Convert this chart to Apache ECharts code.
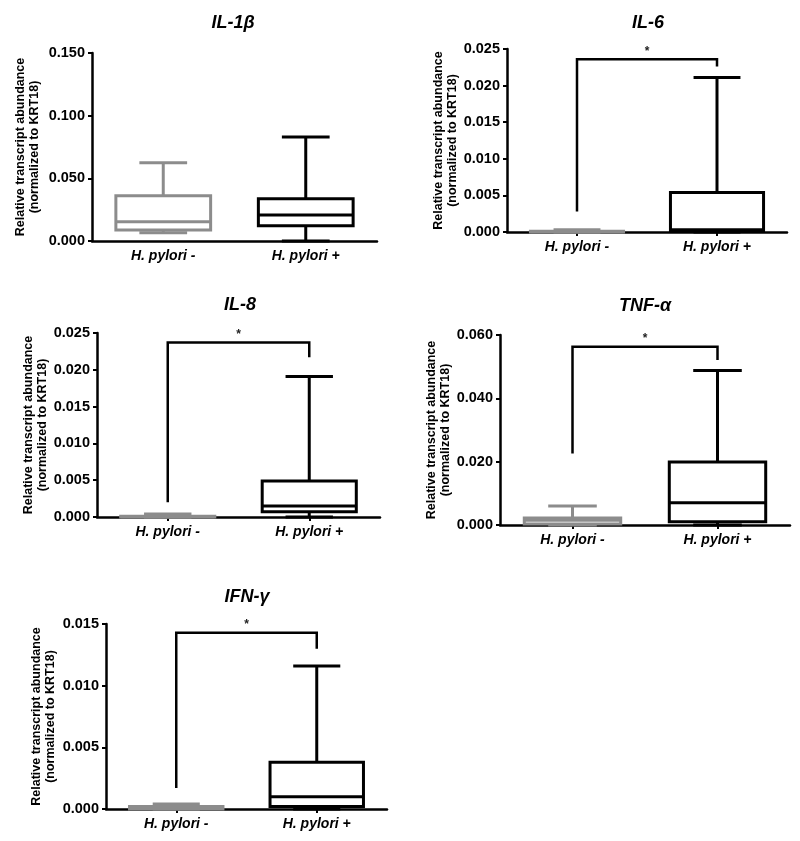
<!DOCTYPE html>
<html><head><meta charset="utf-8">
<script src="https://cdn.jsdelivr.net/npm/echarts@6/dist/echarts.min.js"></script>
<style>html,body{margin:0;padding:0;background:#fff}#c{width:800px;height:841px}</style>
</head><body><div id="c"></div>
<script>
// ---- data ----
const categories = ['H. pylori -', 'H. pylori +'];
const panelTitles = ['IL-1β', 'IL-6', 'IL-8', 'TNF-α', 'IFN-γ'];
const yAxisName = 'Relative transcript abundance\n(normalized to KRT18)';
const yMaxValues = [0.150, 0.025, 0.025, 0.060, 0.015];
const yStepValues = [0.050, 0.005, 0.005, 0.020, 0.005];
// boxes: [min, Q1, median, Q3, max] for H. pylori - and H. pylori +
const il1bNeg = [0.0066, 0.0088, 0.0154, 0.0361, 0.0625];
const il1bPos = [0.0000, 0.0122, 0.0207, 0.0338, 0.0830];
const il6Neg = [0.0000, 0.0000, 0.00005, 0.0001, 0.0003];
const il6Pos = [0.0000, 0.0001, 0.0003, 0.0054, 0.0211];
const il8Neg = [0.0000, 0.0000, 0.00005, 0.0001, 0.0004];
const il8Pos = [0.0000, 0.0007, 0.0015, 0.0049, 0.0191];
const tnfNeg = [0.0000, 0.0003, 0.0015, 0.0022, 0.0060];
const tnfPos = [0.0000, 0.0010, 0.0070, 0.0199, 0.0488];
const ifnNeg = [0.0000, 0.0000, 0.0001, 0.0002, 0.0004];
const ifnPos = [0.0000, 0.0002, 0.0010, 0.0038, 0.0116];
// significance brackets: [left foot, top, right foot]
const il6Bracket = [0.0028, 0.0236, 0.0226];
const il8Bracket = [0.0020, 0.0237, 0.0217];
const tnfBracket = [0.0226, 0.0563, 0.0521];
const ifnBracket = [0.0017, 0.0143, 0.0130];
const sigLabel = '*';

const panelBoxes = [[il1bNeg, il1bPos], [il6Neg, il6Pos], [il8Neg, il8Pos], [tnfNeg, tnfPos], [ifnNeg, ifnPos]];
const panelBrackets = [null, il6Bracket, il8Bracket, tnfBracket, ifnBracket];

// ---- layout / style ----
const FONT = '"Liberation Sans", Arial, Helvetica, sans-serif';
const GRAY = '#8c8c8c', BLACK = '#000000';
const grids = [
  {left: 92, top: 53, width: 285, height: 188},
  {left: 507, top: 49, width: 280, height: 183},
  {left: 97, top: 333, width: 283, height: 184},
  {left: 500, top: 335, width: 290, height: 190},
  {left: 106, top: 624, width: 281, height: 185}
];
const titlePos = [[233, 14], [648, 14], [240, 296], [645, 297], [247, 588]];
const nameGaps = [50, 46, 46, 46, 48];
const showCatTicks = [false, true, true, true, true];

function renderBox(params, api) {
  const ci = api.value(0);
  const c = ci === 0 ? GRAY : BLACK;
  const x = api.coord([ci, 0])[0];
  const band = api.size([1, 0])[0];
  const bw = band * 0.665, cw = band * 0.335;
  const y = k => api.coord([ci, api.value(k)])[1];
  const yMin = y(1), yQ1 = y(2), yMed = y(3), yQ3 = y(4), yMx = y(5);
  const ls = {stroke: c, lineWidth: 3, fill: null};
  return {type: 'group', children: [
    {type: 'line', shape: {x1: x, y1: yQ3, x2: x, y2: yMx}, style: ls},
    {type: 'line', shape: {x1: x - cw / 2, y1: yMx, x2: x + cw / 2, y2: yMx}, style: ls},
    {type: 'line', shape: {x1: x, y1: yMin, x2: x, y2: yQ1}, style: ls},
    {type: 'line', shape: {x1: x - cw / 2, y1: yMin, x2: x + cw / 2, y2: yMin}, style: ls},
    {type: 'rect', shape: {x: x - bw / 2, y: yQ3, width: bw, height: yQ1 - yQ3}, style: {stroke: c, lineWidth: 3, fill: '#fff'}},
    {type: 'line', shape: {x1: x - bw / 2, y1: yMed, x2: x + bw / 2, y2: yMed}, style: ls}
  ]};
}

function renderBracket(params, api) {
  const pl = api.coord([0, api.value(1)]);
  const top = api.coord([0, api.value(2)])[1];
  const pr = api.coord([1, api.value(3)]);
  return {type: 'group', children: [
    {type: 'polyline', shape: {points: [[pl[0], pl[1]], [pl[0], top], [pr[0], top], [pr[0], pr[1]]]},
      style: {stroke: BLACK, lineWidth: 2.5, fill: null}},
    {type: 'text', style: {text: sigLabel, x: (pl[0] + pr[0]) / 2, y: top - 2, align: 'center', verticalAlign: 'bottom',
      font: 'bold 12px ' + FONT, fill: '#222'}}
  ]};
}

const option = {
  backgroundColor: '#fff',
  animation: false,
  title: panelTitles.map((t, i) => ({
    text: t, left: titlePos[i][0], top: titlePos[i][1], textAlign: 'center', padding: 0,
    textStyle: {fontFamily: FONT, fontSize: 18, fontWeight: 'bold', fontStyle: 'italic', color: BLACK}
  })),
  grid: grids.map(g => Object.assign({containLabel: false}, g)),
  xAxis: grids.map((g, i) => ({
    type: 'category', gridIndex: i, data: categories, boundaryGap: true,
    axisLine: {show: true, lineStyle: {color: BLACK, width: 2.5}},
    axisTick: {show: showCatTicks[i], alignWithLabel: true, length: 4, lineStyle: {color: BLACK, width: 2}},
    axisLabel: {color: BLACK, fontFamily: FONT, fontSize: 14, fontWeight: 'bold', fontStyle: 'italic', margin: 8},
    splitLine: {show: false}
  })),
  yAxis: grids.map((g, i) => ({
    type: 'value', gridIndex: i, min: 0, max: yMaxValues[i], interval: yStepValues[i],
    name: yAxisName, nameLocation: 'middle', nameGap: nameGaps[i], nameRotate: 90,
    nameTextStyle: {color: BLACK, fontFamily: FONT, fontSize: 12.5, fontWeight: 'bold', lineHeight: 14},
    axisLine: {show: true, lineStyle: {color: BLACK, width: 2.5}},
    axisTick: {show: true, length: 4, lineStyle: {color: BLACK, width: 2}},
    axisLabel: {color: BLACK, fontFamily: FONT, fontSize: 14.5, fontWeight: 'bold', margin: 7,
      formatter: v => v.toFixed(3)},
    splitLine: {show: false}
  })),
  series: []
};

panelBoxes.forEach((boxes, i) => {
  option.series.push({
    type: 'custom', xAxisIndex: i, yAxisIndex: i, renderItem: renderBox, z: 3,
    encode: {x: 0, y: [1, 2, 3, 4, 5]},
    data: boxes.map((b, ci) => [ci].concat(b))
  });
  if (panelBrackets[i]) {
    option.series.push({
      type: 'custom', xAxisIndex: i, yAxisIndex: i, renderItem: renderBracket, z: 3,
      encode: {x: 0, y: [1, 2, 3]},
      data: [[0].concat(panelBrackets[i])]
    });
  }
});

const chart = echarts.init(document.getElementById('c'), null, {renderer: 'canvas'});
chart.setOption(option);
</script>
</body></html>
